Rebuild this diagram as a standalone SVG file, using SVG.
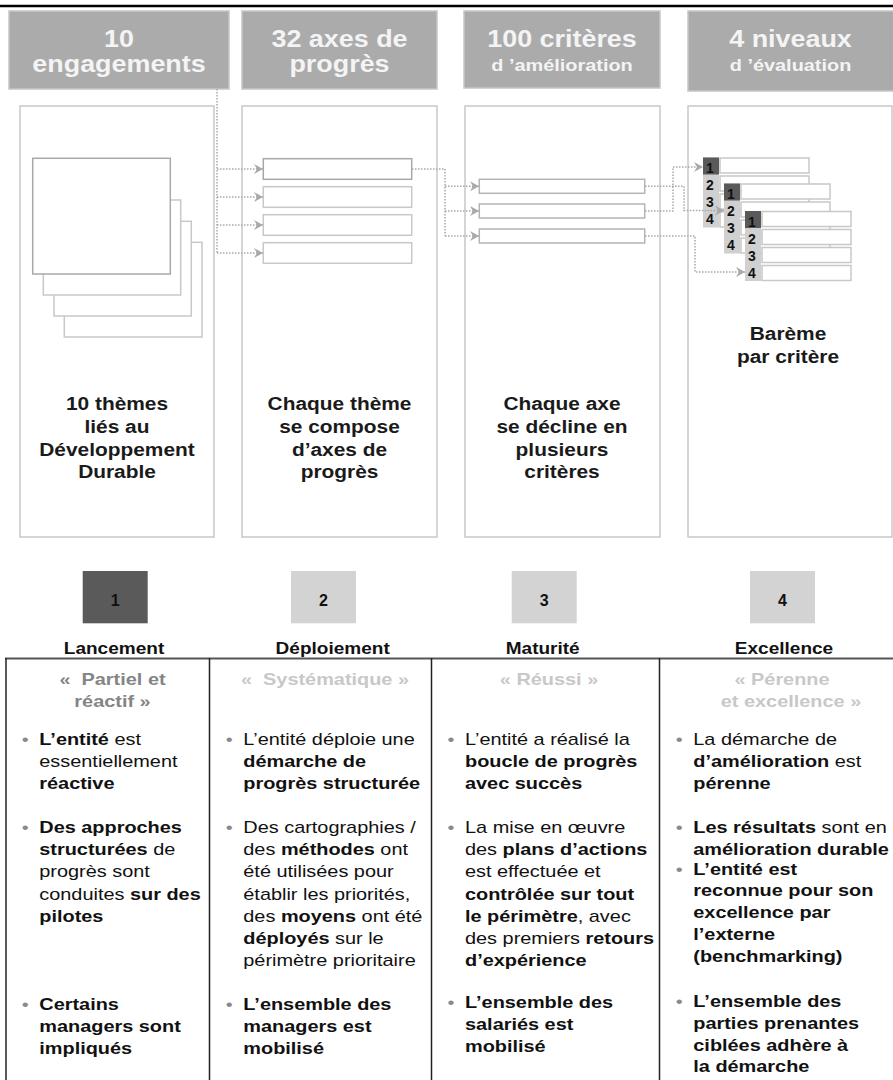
<svg xmlns="http://www.w3.org/2000/svg" width="893" height="1080" viewBox="0 0 893 1080">
<style>
text{font-family:"Liberation Sans",Arial,sans-serif;}
.hdr{fill:#ababab;stroke:#c6c6c6;stroke-width:1.5}
.ht{font-weight:bold;fill:#f4f4f4;font-size:23px}
.hs{font-weight:bold;fill:#f4f4f4;font-size:17px}
.panel{fill:#fff;stroke:#c8c8c8;stroke-width:1.5}
.sq{fill:#fff;stroke:#c8c8c8;stroke-width:1.5}
.sqf{fill:#fff;stroke:#a8a8a8;stroke-width:1.5}
.ax{fill:#fff;stroke:#c8c8c8;stroke-width:1.5}
.axd{fill:#fff;stroke:#a8a8a8;stroke-width:1.5}
.cr{fill:#fff;stroke:#b4b4b4;stroke-width:1.5}
.ncol{fill:#d0d0d0}
.ncell{fill:#5a5a5a}
.srow{fill:#fff;stroke:#c8c8c8;stroke-width:1.5}
.snum{font-weight:bold;font-size:14px;fill:#111}
.dot{fill:none;stroke:#a8a8a8;stroke-width:1.5;stroke-dasharray:1.5 1.5}
.pt{font-weight:bold;font-size:18px;fill:#1a1a1a}
.lvd{fill:#5a5a5a}
.lvl{fill:#d3d3d3}
.lvn{font-weight:bold;font-size:16px;fill:#111}
.lvt{font-weight:bold;font-size:17px;fill:#111}
.sub1{font-weight:bold;font-size:17px;fill:#858585;white-space:pre}
.sub{font-weight:bold;font-size:17px;fill:#c8c8c8;white-space:pre}
.bt{font-size:17px;fill:#111}
.bl{font-size:17px;fill:#8a8a8a}
.b{font-weight:bold}
.tl{stroke:#222;stroke-width:1.5}
</style>
<defs>
<marker id="arr" markerWidth="10" markerHeight="10" refX="9" refY="5" orient="auto" markerUnits="userSpaceOnUse">
<path d="M0,0 L9,5 L0,10 L3,5 Z" fill="#a8a8a8"/>
</marker>
</defs>
<rect width="893" height="1080" fill="#fff"/>
<line x1="0" y1="6" x2="893" y2="6" stroke="#000" stroke-width="2.5"/>

<g id="header1">
<rect class="hdr" x="9" y="11" width="220" height="78"/>
<text class="ht" transform="translate(119,0) scale(1.17,1)" text-anchor="middle"><tspan x="0" y="47">10</tspan><tspan x="0" y="72">engagements</tspan></text>
</g>
<g id="header2">
<rect class="hdr" x="242" y="11" width="195" height="78"/>
<text class="ht" transform="translate(339.5,0) scale(1.17,1)" text-anchor="middle"><tspan x="0" y="47">32 axes de</tspan><tspan x="0" y="72">progrès</tspan></text>
</g>
<g id="header3">
<rect class="hdr" x="464" y="11" width="196" height="77"/>
<text transform="translate(562,0) scale(1.17,1)" text-anchor="middle"><tspan class="ht" x="0" y="47">100 critères</tspan><tspan class="hs" x="0" y="71">d ’amélioration</tspan></text>
</g>
<g id="header4">
<rect class="hdr" x="688" y="11" width="206" height="80"/>
<text transform="translate(790.5,0) scale(1.17,1)" text-anchor="middle"><tspan class="ht" x="0" y="47">4 niveaux</tspan><tspan class="hs" x="0" y="71">d ’évaluation</tspan></text>
</g>

<g id="panel1">
<rect class="panel" x="20" y="106" width="194" height="431"/>
<rect class="sq" x="64.3" y="242.3" width="137.7" height="94.7"/>
<rect class="sq" x="54" y="221.3" width="137.3" height="94.7"/>
<rect class="sq" x="43.3" y="200" width="137.4" height="95"/>
<rect class="sqf" x="32.7" y="158.3" width="137.6" height="115.7"/>
<text class="pt" transform="translate(117,0) scale(1.16,1)" text-anchor="middle"><tspan x="0" y="410">10 thèmes</tspan><tspan x="0" y="433">liés au</tspan><tspan x="0" y="456">Développement</tspan><tspan x="0" y="478">Durable</tspan></text>
</g>
<g id="panel2">
<rect class="panel" x="242" y="106" width="195" height="431"/>
<rect class="axd" x="263.3" y="158.7" width="148.4" height="20.6"/>
<rect class="ax" x="263.3" y="186.7" width="148.4" height="20.6"/>
<rect class="ax" x="263.3" y="214.7" width="148.4" height="20.6"/>
<rect class="ax" x="263.3" y="242.7" width="148.4" height="20.6"/>
<text class="pt" transform="translate(339.5,0) scale(1.16,1)" text-anchor="middle"><tspan x="0" y="410">Chaque thème</tspan><tspan x="0" y="433">se compose</tspan><tspan x="0" y="456">d’axes de</tspan><tspan x="0" y="478">progrès</tspan></text>
</g>
<g id="panel3">
<rect class="panel" x="465" y="106" width="195" height="431"/>
<rect class="cr" x="479.3" y="179.3" width="165.4" height="14"/>
<rect class="cr" x="479.3" y="204" width="165.4" height="14"/>
<rect class="cr" x="479.3" y="229" width="165.4" height="14"/>
<text class="pt" transform="translate(562,0) scale(1.16,1)" text-anchor="middle"><tspan x="0" y="410">Chaque axe</tspan><tspan x="0" y="433">se décline en</tspan><tspan x="0" y="456">plusieurs</tspan><tspan x="0" y="478">critères</tspan></text>
</g>
<g id="panel4">
<rect class="panel" x="688" y="106" width="204" height="431"/>
<text class="pt" transform="translate(788,0) scale(1.16,1)" text-anchor="middle"><tspan x="0" y="340">Barème</tspan><tspan x="0" y="363">par critère</tspan></text>
</g>

<g id="stack1" transform="translate(703,157.5)">
<rect class="ncol" x="0" y="0" width="16" height="70"/>
<rect class="ncell" x="0" y="0" width="16" height="17"/>
<rect class="srow" x="17" y="0.5" width="89" height="15"/>
<rect class="srow" x="17" y="18.5" width="89" height="15"/>
<rect class="srow" x="17" y="36.5" width="89" height="15"/>
<rect class="srow" x="17" y="54.5" width="89" height="15"/>
<text class="snum" x="3" y="15.5">1</text><text class="snum" x="3" y="32.5">2</text><text class="snum" x="3" y="49.5">3</text><text class="snum" x="3" y="66.5">4</text>
</g>
<g id="stack2" transform="translate(724,183.5)">
<rect class="ncol" x="0" y="0" width="16" height="70"/>
<rect class="ncell" x="0" y="0" width="16" height="17"/>
<rect class="srow" x="17" y="0.5" width="89" height="15"/>
<rect class="srow" x="17" y="18.5" width="89" height="15"/>
<rect class="srow" x="17" y="36.5" width="89" height="15"/>
<rect class="srow" x="17" y="54.5" width="89" height="15"/>
<text class="snum" x="3" y="15.5">1</text><text class="snum" x="3" y="32.5">2</text><text class="snum" x="3" y="49.5">3</text><text class="snum" x="3" y="66.5">4</text>
</g>
<g id="stack3" transform="translate(745,211)">
<rect class="ncol" x="0" y="0" width="16" height="70"/>
<rect class="ncell" x="0" y="0" width="16" height="17"/>
<rect class="srow" x="17" y="0.5" width="89" height="15"/>
<rect class="srow" x="17" y="18.5" width="89" height="15"/>
<rect class="srow" x="17" y="36.5" width="89" height="15"/>
<rect class="srow" x="17" y="54.5" width="89" height="15"/>
<text class="snum" x="3" y="15.5">1</text><text class="snum" x="3" y="32.5">2</text><text class="snum" x="3" y="49.5">3</text><text class="snum" x="3" y="66.5">4</text>
</g>

<g id="connectors">
<path class="dot" d="M217,89 V253"/>
<path class="dot" d="M217,169 H263" marker-end="url(#arr)"/>
<path class="dot" d="M217,197 H263" marker-end="url(#arr)"/>
<path class="dot" d="M217,225 H263" marker-end="url(#arr)"/>
<path class="dot" d="M217,253 H263" marker-end="url(#arr)"/>
<path class="dot" d="M412,169 H445 V236"/>
<path class="dot" d="M445,186.3 H479" marker-end="url(#arr)"/>
<path class="dot" d="M445,211 H479" marker-end="url(#arr)"/>
<path class="dot" d="M445,236 H479" marker-end="url(#arr)"/>
<path class="dot" d="M645,186.3 H684 V210.5 H724" marker-end="url(#arr)"/>
<path class="dot" d="M645,211 H673 V167 H703" marker-end="url(#arr)"/>
<path class="dot" d="M645,236 H695 V272 H745" marker-end="url(#arr)"/>
</g>

<g id="level1">
<rect class="lvd" x="82.7" y="571" width="65" height="52.3"/>
<text class="lvn" x="115.2" y="606" text-anchor="middle">1</text>
<text class="lvt" transform="translate(114,0) scale(1.12,1)" x="0" y="654" text-anchor="middle">Lancement</text>
</g>
<g id="level2">
<rect class="lvl" x="291" y="571" width="65" height="52.3"/>
<text class="lvn" x="323.5" y="606" text-anchor="middle">2</text>
<text class="lvt" transform="translate(332.7,0) scale(1.12,1)" x="0" y="654" text-anchor="middle">Déploiement</text>
</g>
<g id="level3">
<rect class="lvl" x="511.7" y="571" width="65" height="52.3"/>
<text class="lvn" x="544.2" y="606" text-anchor="middle">3</text>
<text class="lvt" transform="translate(542.7,0) scale(1.12,1)" x="0" y="654" text-anchor="middle">Maturité</text>
</g>
<g id="level4">
<rect class="lvl" x="750" y="571" width="65" height="52.3"/>
<text class="lvn" x="782.5" y="606" text-anchor="middle">4</text>
<text class="lvt" transform="translate(784,0) scale(1.12,1)" x="0" y="654" text-anchor="middle">Excellence</text>
</g>

<g id="table">
<line x1="5" y1="658.5" x2="893" y2="658.5" stroke="#555" stroke-width="2"/>
<line class="tl" x1="6" y1="658" x2="6" y2="1080"/>
<line class="tl" x1="209.5" y1="658" x2="209.5" y2="1080"/>
<line class="tl" x1="431.5" y1="658" x2="431.5" y2="1080"/>
<line class="tl" x1="659.5" y1="658" x2="659.5" y2="1080"/>
</g>

<g id="col1">
<text class="sub1" transform="translate(112.5,0) scale(1.17,1)" text-anchor="middle"><tspan x="0" y="685">«  Partiel et</tspan><tspan x="0" y="707">réactif »</tspan></text>
<g transform="translate(39.3,0) scale(1.17,1)">
<text class="bl" x="-15" y="745">•</text>
<text class="bt"><tspan x="0" y="745"><tspan class="b">L’entité</tspan> est</tspan><tspan x="0" y="767">essentiellement</tspan><tspan x="0" y="789" class="b">réactive</tspan></text>
<text class="bl" x="-15" y="833">•</text>
<text class="bt"><tspan x="0" y="833" class="b">Des approches</tspan><tspan x="0" y="855.5"><tspan class="b">structurées</tspan> de</tspan><tspan x="0" y="877.5">progrès sont</tspan><tspan x="0" y="900">conduites <tspan class="b">sur des</tspan></tspan><tspan x="0" y="922" class="b">pilotes</tspan></text>
<text class="bl" x="-15" y="1010">•</text>
<text class="bt b"><tspan x="0" y="1010">Certains</tspan><tspan x="0" y="1032">managers sont</tspan><tspan x="0" y="1054">impliqués</tspan></text>
</g>
</g>

<g id="col2">
<text class="sub" transform="translate(325,0) scale(1.17,1)" x="0" y="685" text-anchor="middle">«  Systématique »</text>
<g transform="translate(243.3,0) scale(1.17,1)">
<text class="bl" x="-15" y="745">•</text>
<text class="bt"><tspan x="0" y="745">L’entité déploie une</tspan><tspan x="0" y="767" class="b">démarche de</tspan><tspan x="0" y="789" class="b">progrès structurée</tspan></text>
<text class="bl" x="-15" y="833">•</text>
<text class="bt"><tspan x="0" y="833">Des cartographies /</tspan><tspan x="0" y="855.5">des <tspan class="b">méthodes</tspan> ont</tspan><tspan x="0" y="877.5">été utilisées pour</tspan><tspan x="0" y="900">établir les priorités,</tspan><tspan x="0" y="922">des <tspan class="b">moyens</tspan> ont été</tspan><tspan x="0" y="944"><tspan class="b">déployés</tspan> sur le</tspan><tspan x="0" y="966">périmètre prioritaire</tspan></text>
<text class="bl" x="-15" y="1010">•</text>
<text class="bt b"><tspan x="0" y="1010">L’ensemble des</tspan><tspan x="0" y="1032">managers est</tspan><tspan x="0" y="1054">mobilisé</tspan></text>
</g>
</g>

<g id="col3">
<text class="sub" transform="translate(549,0) scale(1.17,1)" x="0" y="685" text-anchor="middle">« Réussi »</text>
<g transform="translate(465,0) scale(1.17,1)">
<text class="bl" x="-15" y="745">•</text>
<text class="bt"><tspan x="0" y="745">L’entité a réalisé la</tspan><tspan x="0" y="767" class="b">boucle de progrès</tspan><tspan x="0" y="789" class="b">avec succès</tspan></text>
<text class="bl" x="-15" y="833">•</text>
<text class="bt"><tspan x="0" y="833">La mise en œuvre</tspan><tspan x="0" y="855.5">des <tspan class="b">plans d’actions</tspan></tspan><tspan x="0" y="877.5">est effectuée et</tspan><tspan x="0" y="900" class="b">contrôlée sur tout</tspan><tspan x="0" y="922"><tspan class="b">le périmètre</tspan>, avec</tspan><tspan x="0" y="944">des premiers <tspan class="b">retours</tspan></tspan><tspan x="0" y="966" class="b">d’expérience</tspan></text>
<text class="bl" x="-15" y="1008">•</text>
<text class="bt b"><tspan x="0" y="1008">L’ensemble des</tspan><tspan x="0" y="1030">salariés est</tspan><tspan x="0" y="1052">mobilisé</tspan></text>
</g>
</g>

<g id="col4">
<text class="sub" transform="translate(782,0) scale(1.17,1)" x="0" y="685" text-anchor="middle">« Pérenne</text>
<text class="sub" transform="translate(791,0) scale(1.17,1)" x="0" y="707" text-anchor="middle">et excellence »</text>
<g transform="translate(693.3,0) scale(1.17,1)">
<text class="bl" x="-15" y="745">•</text>
<text class="bt"><tspan x="0" y="745">La démarche de</tspan><tspan x="0" y="767"><tspan class="b">d’amélioration</tspan> est</tspan><tspan x="0" y="789" class="b">pérenne</tspan></text>
<text class="bl" x="-15" y="833">•</text>
<text class="bt"><tspan x="0" y="833"><tspan class="b">Les résultats</tspan> sont en</tspan><tspan x="0" y="855.5" class="b">amélioration durable</tspan></text>
<text class="bl" x="-15" y="875">•</text>
<text class="bt b"><tspan x="0" y="875">L’entité est</tspan><tspan x="0" y="896.5">reconnue pour son</tspan><tspan x="0" y="918">excellence par</tspan><tspan x="0" y="940">l’externe</tspan><tspan x="0" y="962">(benchmarking)</tspan></text>
<text class="bl" x="-15" y="1007">•</text>
<text class="bt b"><tspan x="0" y="1007">L’ensemble des</tspan><tspan x="0" y="1029">parties prenantes</tspan><tspan x="0" y="1051">ciblées adhère à</tspan><tspan x="0" y="1072">la démarche</tspan></text>
</g>
</g>
</svg>
